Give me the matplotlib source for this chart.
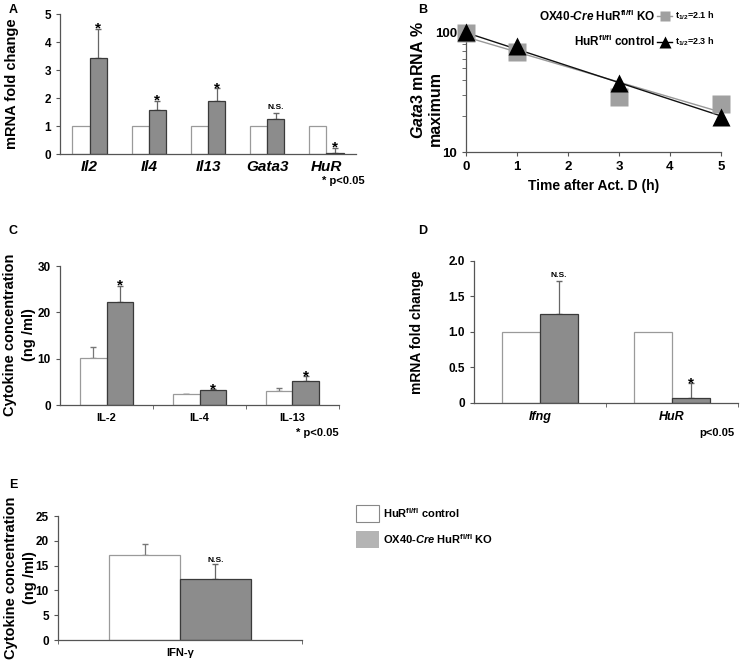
import matplotlib
matplotlib.use("Agg")
import matplotlib.pyplot as plt
import numpy as np
from matplotlib.patches import Rectangle

plt.rcParams['font.family'] = ['Liberation Sans', 'DejaVu Sans']
plt.rcParams['font.weight'] = 'bold'
plt.rcParams['axes.labelweight'] = 'bold'
plt.rcParams['mathtext.fontset'] = 'custom'
plt.rcParams['mathtext.rm'] = 'Liberation Sans:bold'
plt.rcParams['mathtext.it'] = 'Liberation Sans:italic:bold'
plt.rcParams['mathtext.bf'] = 'Liberation Sans:bold'

# --- data ---
a_genes = ['Il2', 'Il4', 'Il13', 'Gata3', 'HuR']
a_ctrl = [1.0, 1.0, 1.0, 1.0, 1.0]
a_ko = [3.42, 1.58, 1.90, 1.25, 0.05]
a_ko_err = [1.05, 0.32, 0.45, 0.20, 0.17]
a_marks = ['*', '*', '*', 'N.S.', '*']

b_time = [0, 1, 3, 5]
b_ko = [98, 68, 28.5, 25]
b_ctrl = [100, 76, 37.5, 19.5]
b_fit_time = [0, 5]
b_ko_fit = [91, 21.5]
b_ctrl_fit = [99, 20]

c_cyt = ['IL-2', 'IL-4', 'IL-13']
c_ctrl = [10.2, 2.3, 3.1]
c_ctrl_err = [2.3, 0.0, 0.5]
c_ko = [22.3, 3.2, 5.2]
c_ko_err = [3.5, 0.2, 1.0]

d_genes = ['Ifng', 'HuR']
d_ctrl = [1.0, 1.0]
d_ko = [1.26, 0.07]
d_ko_err = [0.46, 0.21]
d_marks = ['N.S.', '*']

e_cyt = ['IFN-γ']
e_ctrl = [17.2]
e_ctrl_err = [2.2]
e_ko = [12.3]
e_ko_err = [3.1]

GREY = '#8c8c8c'
LEG_GREY = '#b4b4b4'
AX_COL = '#555555'
W = 0.29

fig = plt.figure(figsize=(7.4, 6.64), dpi=100)


def style_ax(ax):
    for s in ['top', 'right']:
        ax.spines[s].set_visible(False)
    for s in ['left', 'bottom']:
        ax.spines[s].set_color(AX_COL)
        ax.spines[s].set_linewidth(0.9)
    ax.tick_params(axis='both', colors=AX_COL, labelcolor='black', labelsize=8.5,
                   length=3, width=0.8, direction='out')


def bars(ax, ctrl, ko, ko_err, ctrl_err=None, capsize=2.5, marks=None, mark_off=0.0, ms=9):
    x = np.arange(len(ctrl))
    ax.bar(x - W / 2, ctrl, W, color='white', edgecolor='#9a9a9a', linewidth=0.9, zorder=2)
    ax.bar(x + W / 2, ko, W, color=GREY, edgecolor='#3a3a3a', linewidth=0.9, zorder=2)
    if ctrl_err is not None:
        ax.errorbar(x - W / 2, ctrl, yerr=[np.zeros(len(ctrl)), ctrl_err], fmt='none',
                    ecolor='#777777', elinewidth=0.9, capsize=capsize, zorder=1)
    ax.errorbar(x + W / 2, ko, yerr=[np.zeros(len(ko)), ko_err], fmt='none',
                ecolor='#666666', elinewidth=0.9, capsize=capsize, zorder=1)
    if marks is not None:
        for i, m in enumerate(marks):
            top = ko[i] + ko_err[i]
            if m == '*':
                ax.text(x[i] + W / 2, top - mark_off, '*', ha='center', va='bottom', fontsize=ms + 2)
            else:
                ax.text(x[i] + W / 2, top + mark_off * 0.3, m, ha='center', va='bottom', fontsize=6)
    ax.set_xlim(-0.5, len(ctrl) - 0.5)
    return x


def two_line_ylabel(ax, line1, line2, x1, x2, y1, y2, size):
    # two rotated lines placed separately, in figure pixels from top-left
    fig.text(x1 / 740, 1 - y1 / 664, line1, rotation=90, ha='center', va='center',
             fontsize=size, fontweight='bold')
    fig.text(x2 / 740, 1 - y2 / 664, line2, rotation=90, ha='center', va='center',
             fontsize=size, fontweight='bold')


# ---------------- A ----------------
axA = fig.add_axes([0.0811, 0.768, 0.40, 0.2108])
style_ax(axA)
x = bars(axA, a_ctrl, a_ko, a_ko_err, marks=a_marks, mark_off=0.25)
axA.set_ylim(0, 5)
axA.set_yticks([0, 1, 2, 3, 4, 5])
axA.set_xticks(x)
axA.set_xticklabels(a_genes, fontsize=11, style='italic')
axA.tick_params(axis='x', length=0, pad=4)
axA.set_ylabel('mRNA fold change', fontsize=10.5)
axA.yaxis.set_label_coords(-0.14, 0.5)
fig.text(0.435, 0.728, '* p<0.05', fontsize=8, ha='left', va='center')
fig.text(0.012, 0.985, 'A', fontsize=9, va='center')

# ---------------- B ----------------
axB = fig.add_axes([0.6297, 0.771, 0.3446, 0.191])
style_ax(axB)
axB.set_yscale('log')
axB.set_ylim(10, 114)
axB.set_xlim(0, 5)
axB.set_yticks([10, 100])
axB.set_yticklabels(['10', '100'])
axB.tick_params(axis='y', labelsize=9.5)
axB.tick_params(axis='x', labelsize=9.5)
axB.tick_params(axis='y', which='minor', length=3, color=AX_COL)
axB.yaxis.set_minor_formatter(matplotlib.ticker.NullFormatter())
axB.set_xticks([0, 1, 2, 3, 4, 5])
axB.plot(b_fit_time, b_ko_fit, color='#999999', lw=1.0, zorder=2)
axB.plot(b_fit_time, b_ctrl_fit, color='#111111', lw=1.0, zorder=2)
axB.plot(b_time, b_ko, 's', color='#a0a0a0', ms=12.5, mec='none', clip_on=False, zorder=3)
axB.plot(b_time, b_ctrl, '^', color='black', ms=12.5, mec='none', clip_on=False, zorder=4)
axB.set_xlabel('Time after Act. D (h)', fontsize=10)
two_line_ylabel(axB, '$\\mathit{Gata3}$ mRNA %', 'maximum', 418, 435, 80, 108, 11.5)
fig.text(0.565, 0.985, 'B', fontsize=9, va='center')
# legend
fig.text(0.885, 0.976, 'OX40-$\\mathit{Cre}$ HuR$^{\\mathrm{fl/fl}}$ KO', fontsize=8.5,
         ha='right', va='center')
fig.text(0.885, 0.937, 'HuR$^{\\mathrm{fl/fl}}$ control', fontsize=8.5, ha='right', va='center')
fig.add_artist(plt.Line2D([0.888, 0.908], [0.976, 0.976], color='#999999', lw=1,
                          transform=fig.transFigure))
fig.add_artist(plt.Line2D([0.898], [0.976], marker='s', color='#a0a0a0', ms=7, mec='none',
                          transform=fig.transFigure))
fig.add_artist(plt.Line2D([0.888, 0.908], [0.937, 0.937], color='black', lw=1,
                          transform=fig.transFigure))
fig.add_artist(plt.Line2D([0.898], [0.937], marker='^', color='black', ms=8, mec='none',
                          transform=fig.transFigure))
fig.text(0.912, 0.976, 't$_{1/2}$=2.1 h', fontsize=6.5, ha='left', va='center')
fig.text(0.912, 0.937, 't$_{1/2}$=2.3 h', fontsize=6.5, ha='left', va='center')

# ---------------- C ----------------
axC = fig.add_axes([0.0811, 0.390, 0.377, 0.2093])
style_ax(axC)
x = bars(axC, c_ctrl, c_ko, c_ko_err, ctrl_err=c_ctrl_err, marks=['*', '*', '*'], mark_off=1.5)
axC.set_ylim(0, 30)
axC.set_yticks([0, 10, 20, 30])
axC.set_xticks(x)
axC.set_xticklabels(c_cyt, fontsize=8)
axC.set_xticks([0.5, 1.5, 2.5], minor=True)
axC.tick_params(axis='x', which='major', length=0, pad=6)
axC.tick_params(axis='x', which='minor', length=3, color=AX_COL)
two_line_ylabel(axC, 'Cytokine concentration', '(ng /ml)', 10, 29, 335, 335, 10.5)
fig.text(0.40, 0.348, '* p<0.05', fontsize=8, ha='left', va='center')
fig.text(0.012, 0.652, 'C', fontsize=9, va='center')

# ---------------- D ----------------
axD = fig.add_axes([0.6405, 0.3931, 0.3568, 0.2139])
style_ax(axD)
x = bars(axD, d_ctrl, d_ko, d_ko_err, capsize=2.5, marks=d_marks, mark_off=0.1)
axD.set_ylim(0, 2)
axD.set_yticks([0, 0.5, 1.0, 1.5, 2.0])
axD.set_yticklabels(['0', '0.5', '1.0', '1.5', '2.0'])
axD.set_xticks(x)
axD.set_xticklabels(d_genes, fontsize=9, style='italic')
axD.set_xticks([0.5, 1.5], minor=True)
axD.tick_params(axis='x', which='major', length=0, pad=6)
axD.tick_params(axis='x', which='minor', length=3, color=AX_COL)
axD.set_ylabel('mRNA fold change', fontsize=10)
axD.yaxis.set_label_coords(-0.19, 0.5)
fig.text(0.945, 0.348, 'p<0.05', fontsize=8, ha='left', va='center')
fig.text(0.565, 0.652, 'D', fontsize=9, va='center')

# ---------------- E ----------------
axE = fig.add_axes([0.0784, 0.0361, 0.3297, 0.1867])
style_ax(axE)
x = bars(axE, e_ctrl, e_ko, e_ko_err, ctrl_err=e_ctrl_err, marks=['N.S.'], mark_off=0.0)
axE.set_ylim(0, 25)
axE.set_yticks([0, 5, 10, 15, 20, 25])
axE.set_xticks(x)
axE.set_xticklabels(e_cyt, fontsize=8)
axE.set_xticks([-0.5, 0.5], minor=True)
axE.tick_params(axis='x', which='major', length=0, pad=6)
axE.tick_params(axis='x', which='minor', length=3, color=AX_COL)
two_line_ylabel(axE, 'Cytokine concentration', '(ng /ml)', 11, 30, 578, 578, 10.5)
fig.text(0.012, 0.27, 'E', fontsize=9, va='center')

# shared legend
fig.add_artist(Rectangle((0.481, 0.214), 0.031, 0.026, facecolor='white', edgecolor='#888888',
                         lw=0.8, transform=fig.transFigure))
fig.add_artist(Rectangle((0.481, 0.175), 0.031, 0.026, facecolor=LEG_GREY, edgecolor='none',
                         transform=fig.transFigure))
fig.text(0.518, 0.227, 'HuR$^{\\mathrm{fl/fl}}$ control', fontsize=8, va='center')
fig.text(0.518, 0.188, 'OX40-$\\mathit{Cre}$ HuR$^{\\mathrm{fl/fl}}$ KO', fontsize=8, va='center')

fig.savefig('out.png', dpi=100, facecolor='white')
